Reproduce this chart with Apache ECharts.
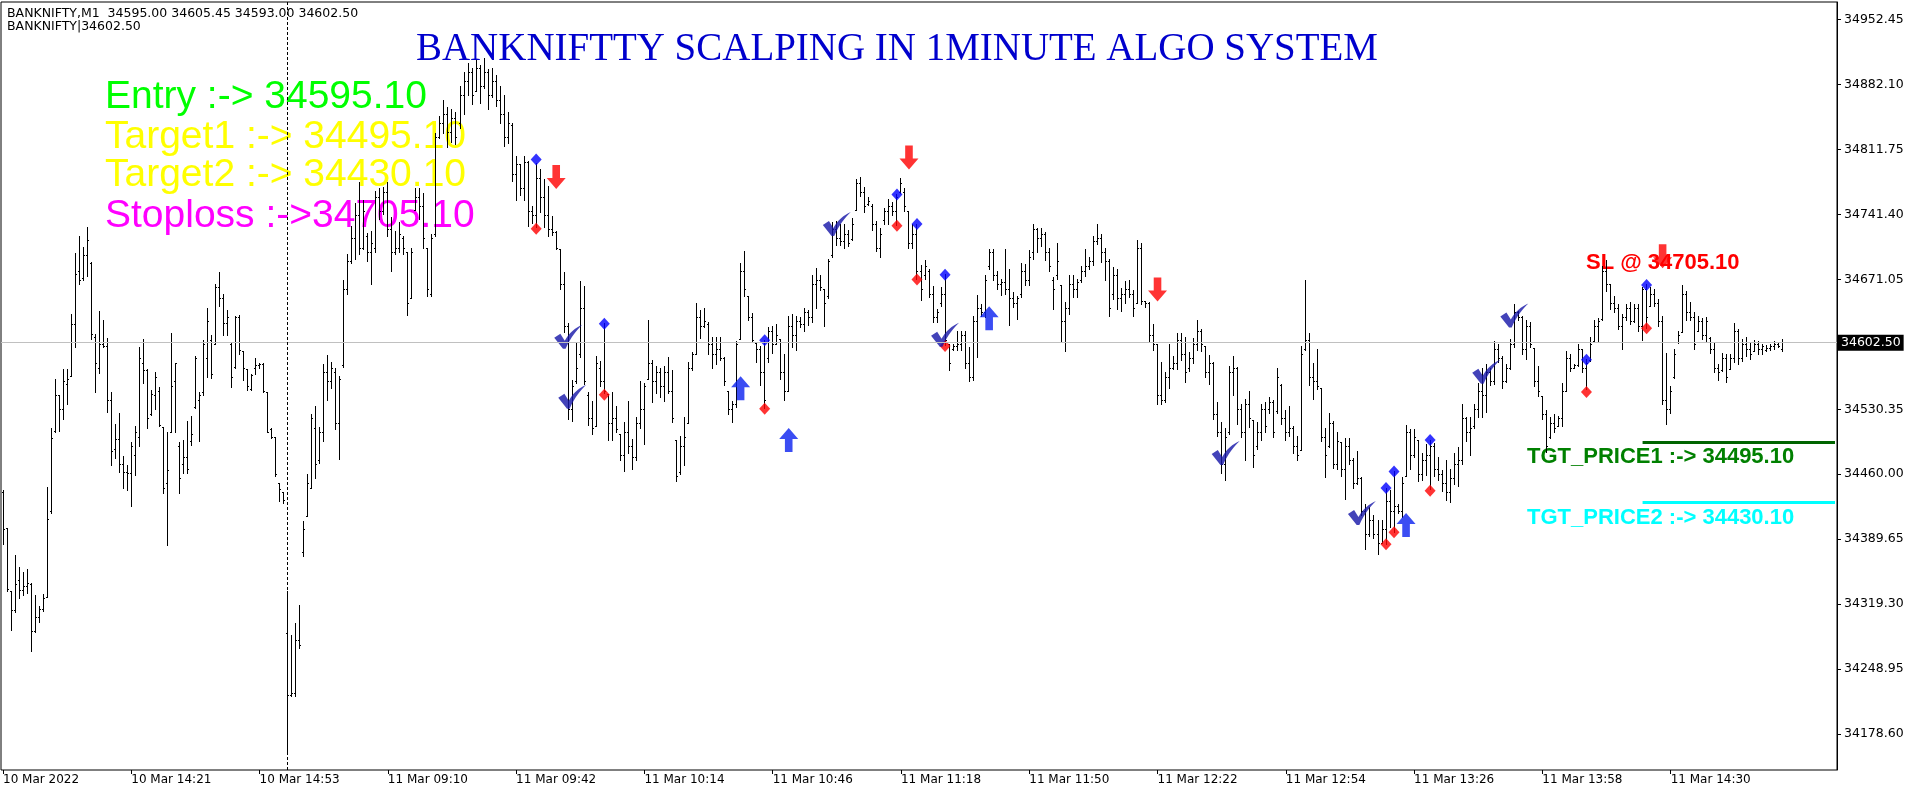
<!DOCTYPE html>
<html>
<head>
<meta charset="utf-8">
<script src="https://cdn.jsdelivr.net/npm/echarts@6/dist/echarts.min.js"></script>
<style>
html,body{margin:0;padding:0;background:#fff;}
#chart{width:1916px;height:795px;}
</style>
</head>
<body>
<div id="chart"></div>
<script>
// ---------------- DATA ----------------
const tickLabels = ['10 Mar 2022','10 Mar 14:21','10 Mar 14:53','11 Mar 09:10','11 Mar 09:42','11 Mar 10:14','11 Mar 10:46','11 Mar 11:18','11 Mar 11:50','11 Mar 12:22','11 Mar 12:54','11 Mar 13:26','11 Mar 13:58','11 Mar 14:30'];
const barsPerTick = 32;
const slotCount = 458;
const yTicks = [34952.45, 34882.10, 34811.75, 34741.40, 34671.05, 34530.35, 34460.00, 34389.65, 34319.30, 34248.95, 34178.60];
const yMin = 34139.6, yMax = 34971.5;
const lastPrice = 34602.50;
const separatorBar = 71;

const opens = [
34440,34401,34333,34312,34345,34334,34338,34340,34290,34305,34313,34326,34420,34506,34545,34530,34557,34566,34622,34680,
34672,34697,34688,34608,34575,34600,34598,34540,34487,34498,34470,34462,34461,34480,34500,34580,34572,34525,34545,34550,
34511,34450,34505,34560,34490,34470,34478,34495,34532,34540,34548,34585,34605,34600,34662,34650,34623,34600,34576,34630,
34593,34573,34552,34575,34578,34579,34549,34508,34500,34450,34440,34287,34220,34222,34280,34375,34414,34445,34510,34475,
34505,34570,34560,34570,34515,34578,34660,34690,34715,34740,34705,34718,34700,34705,34760,34745,34765,34725,34700,34705,
34715,34700,34650,34746,34760,34750,34705,34655,34720,34825,34840,34850,34830,34845,34840,34870,34885,34895,34875,34900,
34880,34895,34870,34885,34865,34850,34825,34838,34785,34795,34770,34798,34745,34740,34780,34760,34740,34725,34722,34703,
34665,34620,34530,34560,34590,34640,34545,34520,34512,34575,34560,34546,34515,34520,34503,34480,34505,34490,34478,34515,
34530,34563,34580,34560,34570,34555,34570,34550,34496,34462,34490,34515,34575,34590,34630,34620,34622,34600,34590,34595,
34585,34550,34530,34535,34606,34680,34652,34630,34602,34595,34570,34585,34615,34600,34606,34570,34550,34620,34610,34625,
34622,34635,34630,34665,34670,34660,34652,34697,34725,34715,34712,34720,34714,34746,34775,34765,34752,34750,34730,34705,
34735,34745,34750,34745,34765,34765,34745,34710,34720,34680,34675,34680,34655,34630,34645,34655,34600,34595,34598,34600,
34610,34580,34565,34625,34640,34635,34685,34700,34675,34665,34668,34660,34650,34645,34655,34680,34670,34700,34725,34715,
34720,34700,34670,34675,34664,34625,34640,34665,34660,34670,34680,34685,34690,34712,34715,34700,34690,34655,34675,34650,
34655,34660,34655,34645,34705,34647,34645,34610,34600,34545,34540,34565,34575,34580,34605,34590,34575,34585,34600,34615,
34598,34570,34580,34525,34505,34470,34505,34570,34575,34530,34505,34535,34518,34490,34505,34530,34530,34538,34528,34556,
34520,34505,34510,34490,34486,34595,34605,34565,34560,34553,34500,34490,34515,34470,34494,34465,34490,34475,34450,34455,
34420,34395,34410,34395,34385,34400,34430,34420,34425,34420,34457,34505,34480,34496,34460,34475,34480,34490,34465,34460,
34450,34440,34455,34470,34475,34520,34505,34512,34530,34550,34545,34570,34560,34595,34585,34560,34575,34600,34635,34630,
34595,34620,34596,34560,34544,34525,34500,34515,34512,34520,34550,34585,34575,34578,34595,34575,34583,34604,34620,34628,
34680,34665,34645,34640,34620,34630,34640,34625,34640,34620,34660,34642,34655,34645,34625,34540,34530,34565,34603,34613,
34655,34635,34630,34615,34625,34610,34607,34595,34575,34572,34585,34573,34585,34615,34585,34600,34595,34593,34600,34595,
34594,34596,34598,34600,34595.00
];
const highs = [
34442,34401,34333,34372,34359,34354,34357,34342,34329,34317,34330,34446,34510,34563,34545,34573,34573,34633,34699,34718,
34706,34727,34689,34611,34636,34627,34607,34549,34514,34526,34479,34469,34494,34512,34597,34606,34573,34551,34570,34554,
34511,34505,34612,34580,34494,34497,34517,34522,34588,34549,34605,34640,34610,34665,34679,34655,34637,34603,34631,34632,
34593,34573,34568,34585,34580,34580,34549,34510,34500,34450,34440,34333,34285,34298,34318,34409,34460,34525,34533,34511,
34579,34589,34581,34574,34566,34670,34698,34728,34753,34776,34756,34721,34723,34766,34769,34771,34776,34738,34723,34733,
34718,34700,34705,34769,34769,34764,34705,34720,34829,34847,34865,34857,34855,34852,34880,34895,34905,34900,34908,34903,
34910,34898,34900,34892,34880,34870,34852,34840,34804,34795,34804,34799,34750,34797,34790,34779,34772,34739,34723,34703,
34678,34623,34562,34602,34669,34663,34549,34539,34587,34582,34623,34546,34548,34533,34503,34516,34539,34498,34521,34560,
34558,34627,34583,34577,34575,34577,34586,34572,34496,34501,34521,34581,34592,34645,34637,34640,34624,34608,34608,34608,
34586,34550,34539,34604,34688,34701,34652,34634,34603,34598,34605,34619,34620,34622,34606,34590,34631,34633,34631,34630,
34640,34637,34675,34683,34675,34660,34693,34733,34734,34731,34730,34724,34737,34779,34781,34771,34760,34752,34734,34726,
34748,34758,34754,34763,34780,34769,34745,34731,34731,34686,34691,34682,34663,34638,34662,34676,34601,34601,34615,34615,
34615,34597,34631,34654,34644,34675,34703,34703,34680,34671,34703,34682,34657,34653,34688,34687,34702,34731,34726,34726,
34722,34704,34673,34710,34664,34646,34675,34675,34671,34685,34703,34695,34717,34730,34720,34705,34693,34684,34682,34661,
34669,34670,34659,34713,34710,34647,34646,34622,34601,34581,34570,34601,34587,34612,34612,34608,34592,34607,34627,34617,
34598,34589,34581,34538,34516,34509,34577,34588,34576,34536,34541,34550,34518,34516,34536,34538,34543,34540,34575,34557,
34529,34533,34512,34501,34598,34670,34612,34580,34595,34553,34510,34526,34517,34505,34494,34499,34499,34477,34485,34456,
34427,34424,34415,34410,34410,34445,34442,34463,34427,34456,34513,34508,34508,34496,34482,34492,34497,34493,34478,34464,
34475,34465,34482,34489,34536,34521,34521,34536,34558,34575,34579,34575,34604,34600,34588,34579,34606,34644,34636,34631,
34626,34624,34596,34577,34544,34529,34521,34525,34523,34558,34593,34590,34579,34601,34595,34584,34608,34627,34629,34685,
34691,34665,34653,34644,34633,34644,34646,34644,34644,34662,34665,34662,34660,34649,34631,34591,34555,34595,34615,34664,
34658,34646,34635,34631,34629,34630,34608,34602,34579,34591,34590,34590,34623,34617,34606,34608,34602,34605,34604,34601,
34599,34600,34604,34602,34605.45
];
const lows = [
34384,34333,34291,34310,34325,34329,34331,34268,34289,34299,34311,34326,34417,34505,34506,34519,34536,34566,34597,34665,
34670,34674,34606,34549,34569,34597,34527,34469,34477,34462,34445,34442,34425,34459,34490,34558,34509,34524,34530,34512,
34439,34383,34505,34505,34439,34461,34461,34491,34531,34495,34545,34565,34564,34600,34642,34610,34610,34554,34574,34590,
34561,34551,34551,34568,34575,34549,34505,34499,34458,34430,34428,34159,34219,34219,34271,34371,34414,34444,34455,34472,
34495,34540,34553,34508,34476,34576,34655,34688,34693,34698,34703,34690,34665,34700,34736,34741,34718,34680,34698,34700,
34698,34632,34650,34746,34736,34705,34652,34652,34718,34824,34829,34814,34819,34817,34835,34850,34870,34860,34875,34862,
34878,34855,34868,34858,34840,34815,34818,34777,34757,34762,34757,34728,34732,34727,34743,34727,34718,34719,34703,34660,
34613,34519,34517,34558,34586,34557,34513,34503,34512,34555,34547,34496,34496,34505,34475,34463,34482,34465,34475,34509,
34492,34563,34538,34547,34543,34539,34547,34516,34452,34460,34469,34515,34572,34590,34607,34619,34590,34575,34579,34583,
34556,34525,34516,34532,34606,34652,34626,34603,34581,34556,34531,34581,34591,34600,34563,34540,34550,34597,34594,34619,
34615,34621,34624,34640,34659,34620,34650,34695,34708,34708,34705,34707,34713,34746,34761,34743,34751,34724,34701,34695,
34731,34731,34740,34729,34764,34745,34704,34705,34671,34648,34671,34651,34624,34624,34642,34599,34572,34594,34594,34594,
34575,34560,34561,34586,34631,34630,34682,34670,34660,34654,34655,34621,34641,34628,34651,34664,34664,34693,34700,34707,
34691,34680,34638,34671,34603,34593,34633,34651,34651,34668,34674,34682,34686,34709,34689,34670,34631,34649,34638,34636,
34645,34651,34631,34645,34644,34641,34604,34594,34536,34535,34538,34553,34573,34573,34583,34559,34571,34580,34594,34593,
34565,34557,34519,34501,34461,34453,34503,34545,34514,34500,34475,34511,34467,34487,34496,34505,34526,34500,34526,34514,
34497,34501,34482,34475,34486,34594,34556,34541,34552,34495,34456,34489,34466,34465,34458,34433,34471,34444,34449,34415,
34378,34393,34390,34373,34385,34384,34402,34397,34417,34413,34457,34465,34478,34452,34453,34459,34443,34458,34453,34441,
34431,34429,34449,34447,34471,34495,34480,34510,34521,34521,34527,34556,34557,34581,34553,34559,34573,34597,34626,34590,
34584,34597,34555,34544,34519,34483,34499,34505,34512,34512,34550,34571,34575,34577,34570,34552,34582,34604,34604,34627,
34658,34638,34635,34617,34595,34626,34622,34624,34615,34605,34618,34642,34642,34620,34535,34514,34526,34564,34602,34613,
34626,34627,34595,34615,34606,34604,34591,34570,34561,34571,34559,34573,34581,34579,34582,34588,34584,34593,34590,34590,
34593,34594,34595,34597,34593.00
];
const closes = [
34400,34335,34312,34340,34334,34338,34342,34290,34305,34313,34325,34411,34499,34545,34530,34560,34563,34622,34676,34670,
34697,34713,34611,34580,34600,34598,34540,34485,34498,34470,34462,34461,34490,34505,34585,34572,34520,34546,34565,34513,
34445,34464,34555,34580,34455,34478,34465,34503,34585,34545,34600,34625,34568,34662,34650,34623,34630,34565,34630,34594,
34575,34555,34567,34578,34579,34550,34505,34500,34460,34443,34432,34220,34222,34280,34275,34400,34450,34520,34470,34505,
34570,34560,34575,34515,34563,34660,34690,34715,34740,34705,34745,34700,34710,34760,34745,34765,34725,34700,34705,34720,
34705,34645,34700,34760,34750,34715,34660,34715,34825,34840,34850,34830,34845,34825,34870,34885,34895,34870,34900,34880,
34895,34870,34885,34865,34850,34825,34840,34785,34795,34770,34798,34745,34740,34780,34760,34740,34725,34722,34705,34665,
34620,34530,34555,34575,34640,34560,34520,34510,34580,34560,34550,34515,34520,34508,34480,34505,34490,34478,34515,34530,
34555,34580,34560,34570,34555,34570,34550,34520,34458,34490,34500,34575,34590,34630,34620,34625,34600,34590,34595,34585,
34560,34530,34535,34600,34680,34660,34630,34605,34595,34570,34540,34615,34600,34610,34570,34550,34620,34610,34625,34622,
34635,34630,34665,34670,34662,34645,34690,34725,34715,34712,34720,34710,34730,34775,34765,34750,34755,34730,34705,34720,
34745,34750,34745,34760,34775,34750,34710,34720,34680,34660,34685,34655,34630,34635,34655,34605,34580,34598,34600,34610,
34580,34565,34625,34640,34635,34670,34700,34675,34665,34668,34660,34650,34645,34650,34680,34670,34695,34725,34715,34720,
34700,34685,34660,34690,34625,34640,34665,34660,34668,34680,34685,34690,34712,34715,34700,34690,34640,34675,34650,34655,
34660,34655,34640,34705,34647,34645,34610,34600,34545,34540,34565,34575,34580,34605,34590,34570,34585,34600,34615,34600,
34570,34580,34525,34505,34470,34500,34570,34575,34530,34505,34535,34520,34480,34505,34530,34512,34538,34505,34565,34520,
34505,34510,34490,34480,34590,34605,34565,34560,34555,34500,34480,34515,34470,34495,34465,34490,34475,34450,34455,34420,
34395,34410,34395,34385,34400,34430,34420,34425,34420,34450,34505,34480,34500,34460,34475,34480,34490,34465,34460,34450,
34440,34455,34470,34475,34520,34505,34510,34530,34550,34545,34570,34560,34595,34585,34560,34575,34600,34635,34630,34595,
34620,34600,34560,34550,34525,34490,34515,34510,34520,34550,34585,34575,34578,34595,34575,34580,34600,34620,34625,34680,
34665,34645,34640,34620,34630,34640,34625,34640,34620,34660,34630,34655,34645,34625,34540,34530,34550,34590,34610,34655,
34635,34630,34600,34625,34610,34625,34595,34575,34570,34585,34565,34585,34615,34585,34600,34595,34590,34600,34595,34598,
34596,34598,34600,34598,34602.50
];

const blueDiamonds = [[133,34801],[150,34623],[190,34605],[223,34763],[228,34731],[235,34676],[345,34445],[347,34463],[356,34497],[395,34584],[410,34665]];
const redDiamonds  = [[133,34726],[150,34546],[190,34531],[223,34729],[228,34671],[235,34599],[345,34384],[347,34397],[356,34442],[395,34549],[410,34618]];
const upArrows   = [[184,34553],[196,34497],[246,34629],[350,34405]];
const downArrows = [[138,34782],[226,34803],[288,34660],[414,34696]];
const checkMarks = [[141,34609],[142,34544],[208,34731],[235,34611],[305,34483],[339,34418],[370,34571],[377,34632]];

const tgt1 = {price: 34495.10, fromBar: 409, text: 'TGT_PRICE1 :-> 34495.10'};
const tgt2 = {price: 34430.10, fromBar: 409, text: 'TGT_PRICE2 :-> 34430.10'};
const slText = 'SL @ 34705.10';
const signalLines = ['Entry :-> 34595.10','Target1 :-> 34495.10','Target2 :-> 34430.10','Stoploss :->34705.10'];
const headerLines = ['BANKNIFTY,M1  34595.00 34605.45 34593.00 34602.50','BANKNIFTY|34602.50'];
const titleText = 'BANKNIFTTY SCALPING IN 1MINUTE ALGO SYSTEM';

// ---------------- CHART ----------------
const categories = Array.from({length: slotCount}, (_, i) => String(i));
const barData = opens.map((o, i) => [i, o, highs[i], lows[i], closes[i]]);

function renderBar(params, api) {
  const i = api.value(0);
  const pH = api.coord([i, api.value(2)]);
  const pL = api.coord([i, api.value(3)]);
  const pO = api.coord([i, api.value(1)]);
  const pC = api.coord([i, api.value(4)]);
  const X = Math.floor(pH[0]);
  const x = X + 0.5;
  const yTop = Math.floor(pH[1]);
  const yBot = Math.floor(pL[1]) + 1;
  const yo = Math.floor(pO[1]) + 0.5;
  const yc = Math.floor(pC[1]) + 0.5;
  const st = {stroke: '#000', lineWidth: 1};
  return {type: 'group', children: [
    {type: 'line', shape: {x1: x, y1: yTop, x2: x, y2: yBot}, style: st},
    {type: 'line', shape: {x1: X - 1, y1: yo, x2: X, y2: yo}, style: st},
    {type: 'line', shape: {x1: X + 1, y1: yc, x2: X + 2, y2: yc}, style: st}
  ]};
}

function measure(text, font) {
  const c = document.createElement('canvas').getContext('2d');
  c.font = font;
  return c.measureText(text).width;
}
const titleFont = '39px "Liberation Serif"';
const titleScale = 962 / measure(titleText, titleFont);

const CHECK = 'path://M0,13 L7,9 L12,16 C17,8 24,3 32,0 C26,5 19,12 13,24 L10,24 Z';
const UP = 'path://M10,0 L20,11 L14,11 L14,24 L6,24 L6,11 L0,11 Z';
const DOWN = 'path://M6,0 L14,0 L14,13 L20,13 L10,24 L0,13 L6,13 Z';

const chart = echarts.init(document.getElementById('chart'), null, {renderer: 'canvas'});
const tickFn = (idx) => idx % barsPerTick === 0 && idx / barsPerTick < tickLabels.length;

const option = {
  animation: false,
  backgroundColor: '#fff',
  grid: {left: 1, right: 79, top: 2, bottom: 25, show: true, borderColor: '#000', borderWidth: 1, containLabel: false},
  xAxis: {
    type: 'category', data: categories, boundaryGap: true,
    axisLine: {show: false},
    axisTick: {show: true, alignWithLabel: true, interval: tickFn, length: 4, lineStyle: {color: '#000'}},
    axisLabel: {show: true, interval: tickFn, align: 'left', margin: 4, color: '#000', fontSize: 12, fontFamily: 'DejaVu Sans',
      formatter: (v, idx) => tickLabels[Math.round(idx / barsPerTick)] || ''},
    splitLine: {show: false}
  },
  yAxis: {
    type: 'value', position: 'right', min: yMin, max: yMax, scale: true,
    axisLine: {show: true, lineStyle: {color: '#000'}},
    axisTick: {show: true, length: 4, customValues: yTicks, lineStyle: {color: '#000'}},
    axisLabel: {show: true, customValues: yTicks, margin: 7, color: '#000', fontSize: 12.5, fontFamily: 'DejaVu Sans',
      formatter: (v) => Number(v).toFixed(2)},
    splitLine: {show: false}
  },
  graphic: [
    {type: 'text', x: 7, y: 7, z: 1, style: {text: headerLines.join('\n'), font: '12.5px "DejaVu Sans"', fill: '#000', lineHeight: 13}},
    {type: 'text', x: 416, y: 50, scaleX: titleScale, z: 1, style: {text: titleText, font: titleFont, fill: '#0000cd', align: 'left', verticalAlign: 'middle'}},
    {type: 'text', x: 105, y: 97, z: 1, style: {text: signalLines[0], font: '39px "Liberation Sans"', fill: '#00ff00', verticalAlign: 'middle'}},
    {type: 'text', x: 105, y: 137.5, z: 1, style: {text: signalLines[1], font: '39px "Liberation Sans"', fill: '#ffff00', verticalAlign: 'middle'}},
    {type: 'text', x: 105, y: 175.5, z: 1, style: {text: signalLines[2], font: '39px "Liberation Sans"', fill: '#ffff00', verticalAlign: 'middle'}},
    {type: 'text', x: 105, y: 216, z: 1, style: {text: signalLines[3], font: '39px "Liberation Sans"', fill: '#ff00ff', verticalAlign: 'middle'}},
    {type: 'text', x: 1586, y: 263, z: 1, style: {text: slText, font: 'bold 22px "Liberation Sans"', fill: '#ff0000', verticalAlign: 'middle'}},
    {type: 'text', x: 1527, y: 457, z: 1, style: {text: tgt1.text, font: 'bold 22px "Liberation Sans"', fill: '#008000', verticalAlign: 'middle'}},
    {type: 'text', x: 1527, y: 518, z: 1, style: {text: tgt2.text, font: 'bold 22px "Liberation Sans"', fill: '#00ffff', verticalAlign: 'middle'}}
  ],
  series: [
    {
      type: 'line', data: [], z: 1, silent: true,
      markLine: {
        silent: true, symbol: ['none', 'none'], animation: false, precision: 2,
        data: [
          {yAxis: lastPrice, lineStyle: {color: '#c0c0c0', width: 1, type: 'solid'},
           label: {show: true, position: 'end', distance: 1, formatter: lastPrice.toFixed(2), color: '#fff', backgroundColor: '#000',
                   padding: [2, 3, 1, 3], fontSize: 12.5, fontFamily: 'DejaVu Sans'}},
          {xAxis: separatorBar, lineStyle: {color: '#000', width: 1, type: [3, 2]}, label: {show: false}}
        ]
      }
    },
    {
      type: 'custom', name: 'BANKNIFTY', renderItem: renderBar, data: barData,
      encode: {x: 0, y: [1, 2, 3, 4]}, z: 2, clip: true
    },
    {
      type: 'line', data: [], z: 3, silent: true,
      markLine: {
        silent: true, symbol: ['none', 'none'], animation: false, label: {show: false},
        data: [
          [{coord: [tgt1.fromBar, tgt1.price], lineStyle: {color: '#006400', width: 3, type: 'solid'}}, {coord: [slotCount - 1, tgt1.price]}],
          [{coord: [tgt2.fromBar, tgt2.price], lineStyle: {color: '#00ffff', width: 3, type: 'solid'}}, {coord: [slotCount - 1, tgt2.price]}]
        ]
      }
    },
    {type: 'scatter', data: blueDiamonds, symbol: 'diamond', symbolSize: [11, 12], itemStyle: {color: '#0000ff'}, z: 4, silent: true},
    {type: 'scatter', data: redDiamonds, symbol: 'diamond', symbolSize: [11, 12], itemStyle: {color: '#ff0000'}, z: 4, silent: true},
    {type: 'scatter', data: upArrows, symbol: UP, symbolSize: [19, 24], itemStyle: {color: '#0a20f0'}, z: 4, silent: true},
    {type: 'scatter', data: downArrows, symbol: DOWN, symbolSize: [19, 24], itemStyle: {color: '#ff0000'}, z: 4, silent: true},
    {type: 'scatter', data: checkMarks, symbol: CHECK, symbolSize: [28, 24], itemStyle: {color: '#1414a8'}, z: 4, silent: true}
  ]
};
chart.setOption(option);
</script>
</body>
</html>
